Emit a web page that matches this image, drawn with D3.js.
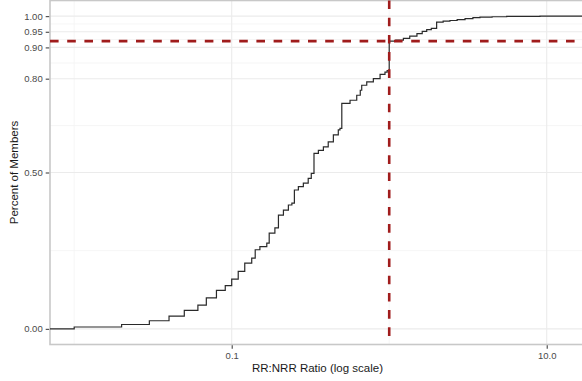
<!DOCTYPE html>
<html>
<head>
<meta charset="utf-8">
<script src="https://cdn.jsdelivr.net/npm/d3@7"></script>
<style>
	body { margin: 0; background: #fff; }
	text { font-family: "Liberation Sans", Arial, sans-serif; }
</style>
</head>
<body>
<div id="chartDiv"></div>
<script>
// ECDF steps: ratio where each step happens, share after it
var stepRatio = [0.010, 0.020, 0.030, 0.040, 0.050, 0.061, 0.069, 0.080, 0.091, 0.100,
	0.110, 0.121, 0.134, 0.141, 0.151, 0.167, 0.173, 0.188, 0.198, 0.213,
	0.229, 0.241, 0.250, 0.265, 0.285, 0.306, 0.320, 0.333, 0.355, 0.382,
	0.410, 0.442, 0.475, 0.487, 0.500, 0.564, 0.622, 0.655, 0.669, 0.720,
	0.793, 0.875, 0.940, 0.970, 1.000, 1.10, 1.23, 1.35, 1.50, 1.62,
	1.73, 1.85, 2.00, 2.20, 2.43, 2.70, 3.03, 3.40, 3.77, 4.50,
	5.57, 7.00, 9.06];
var cumShare = [0.006, 0.014, 0.026, 0.041, 0.059, 0.076, 0.099, 0.123, 0.138, 0.159,
	0.184, 0.210, 0.226, 0.253, 0.263, 0.274, 0.306, 0.323, 0.364, 0.380,
	0.396, 0.402, 0.444, 0.455, 0.466, 0.481, 0.497, 0.561, 0.571, 0.582,
	0.598, 0.620, 0.636, 0.641, 0.721, 0.731, 0.747, 0.763, 0.779, 0.790,
	0.800, 0.814, 0.821, 0.826, 0.920, 0.923, 0.929, 0.936, 0.944, 0.951,
	0.957, 0.961, 0.981, 0.984, 0.986, 0.989, 0.992, 0.995, 0.997, 0.998,
	0.999, 0.9995, 1.000];

var xTicks = [0.1, 10];
var xTickLabels = ["0.1", "10.0"];
var xMinorTicks = [0.01, 1];
var yTicks = [0, 0.5, 0.8, 0.9, 0.95, 1];
var yTickLabels = ["0.00", "0.50", "0.80", "0.90", "0.95", "1.00"];
var yMinorTicks = [0.25, 0.65, 0.85, 0.925, 0.975];

var cutRatio = 1.0;
var cutShare = 0.92;

;(function() {

	var width = 582;
	var height = 381;
	var panel = { left: 50, right: 585, top: 0.5, bottom: 344.5 };

	var xDomain = [0.00702, 17.5];
	var yDomain = [-0.05, 1.05];

	var chart;

	init();

	function init() {
		chart = d3.select("#chartDiv").append("svg")
			.attr("width", width)
			.attr("height", height);

		chart.xScale = d3.scaleLog()
			.domain(xDomain)
			.range([panel.left, panel.right]);

		chart.yScale = d3.scaleLinear()
			.domain(yDomain)
			.range([panel.bottom, panel.top]);

		drawGrid();
		drawAxes();
		drawStep();
		drawCutLines();
	}

	function drawGrid() {
		var g = chart.append("g");

		g.selectAll(".yminor").data(yMinorTicks).enter().append("line")
			.attr("x1", panel.left).attr("x2", panel.right)
			.attr("y1", d => chart.yScale(d)).attr("y2", d => chart.yScale(d))
			.attr("stroke", "#f4f4f4").attr("stroke-width", 0.8);

		g.selectAll(".xminor").data(xMinorTicks).enter().append("line")
			.attr("y1", panel.top).attr("y2", panel.bottom)
			.attr("x1", d => chart.xScale(d)).attr("x2", d => chart.xScale(d))
			.attr("stroke", "#f4f4f4").attr("stroke-width", 0.8);

		g.selectAll(".ymajor").data(yTicks).enter().append("line")
			.attr("x1", panel.left).attr("x2", panel.right)
			.attr("y1", d => chart.yScale(d)).attr("y2", d => chart.yScale(d))
			.attr("stroke", "#ebebeb").attr("stroke-width", 1.1);

		g.selectAll(".xmajor").data(xTicks).enter().append("line")
			.attr("y1", panel.top).attr("y2", panel.bottom)
			.attr("x1", d => chart.xScale(d)).attr("x2", d => chart.xScale(d))
			.attr("stroke", "#ebebeb").attr("stroke-width", 1.1);

		// panel border
		g.append("rect")
			.attr("x", panel.left).attr("y", panel.top)
			.attr("width", panel.right - panel.left)
			.attr("height", panel.bottom - panel.top)
			.attr("fill", "none")
			.attr("stroke", "#c8c8c8")
			.attr("stroke-width", 1.6);
	}

	function drawAxes() {
		chart.xAxis = d3.axisBottom(chart.xScale)
			.tickValues(xTicks)
			.tickFormat((d, i) => xTickLabels[i])
			.tickSize(3.5)
			.tickPadding(3);

		chart.append("g")
			.attr("class", "x axis")
			.attr("transform", "translate(0," + (panel.bottom + 0.8) + ")")
			.call(chart.xAxis);

		chart.yAxis = d3.axisLeft(chart.yScale)
			.tickValues(yTicks)
			.tickFormat((d, i) => yTickLabels[i])
			.tickSize(3.5)
			.tickPadding(3);

		chart.append("g")
			.attr("class", "y axis")
			.attr("transform", "translate(" + (panel.left - 0.8) + ",0)")
			.call(chart.yAxis);

		chart.selectAll(".axis .domain").remove();
		chart.selectAll(".axis line").attr("stroke", "#444").attr("stroke-width", 1.1);
		chart.selectAll(".axis text")
			.attr("fill", "#4a4a4a")
			.style("font-size", "9.5px");

		// x axis header label
		chart.append("text")
			.attr("text-anchor", "middle")
			.attr("x", (panel.left + panel.right) / 2)
			.attr("y", 372)
			.attr("fill", "#1a1a1a")
			.style("font-size", "11.5px")
			.text("RR:NRR Ratio (log scale)");

		// y axis header label
		chart.append("text")
			.attr("text-anchor", "middle")
			.attr("transform", "translate(18," + ((panel.top + panel.bottom) / 2) + ") rotate(-90)")
			.attr("fill", "#1a1a1a")
			.style("font-size", "11.5px")
			.text("Percent of Members");
	}

	function drawStep() {
		var pts = stepRatio.map((r, i) => [r, cumShare[i]]);
		// pad like an ecdf: from the left edge at 0, out to the right edge at 1
		pts.unshift([xDomain[0], 0]);
		pts.push([xDomain[1], cumShare[cumShare.length - 1]]);

		var line = d3.line()
			.x(d => chart.xScale(d[0]))
			.y(d => chart.yScale(d[1]))
			.curve(d3.curveStepAfter);

		chart.append("path")
			.datum(pts)
			.attr("d", line)
			.attr("fill", "none")
			.attr("stroke", "#2a2a2a")
			.attr("stroke-width", 1.2);
	}

	function drawCutLines() {
		var red = "#a01c1c";

		chart.append("line")
			.attr("x1", panel.left).attr("x2", panel.right)
			.attr("y1", chart.yScale(cutShare)).attr("y2", chart.yScale(cutShare))
			.attr("stroke", red)
			.attr("stroke-width", 2.6)
			.attr("stroke-dasharray", "8.6,8.6");

		chart.append("line")
			.attr("x1", chart.xScale(cutRatio)).attr("x2", chart.xScale(cutRatio))
			.attr("y1", panel.top).attr("y2", panel.bottom)
			.attr("stroke", red)
			.attr("stroke-width", 2.6)
			.attr("stroke-dasharray", "8.6,8.6");
	}
})();
</script>
</body>
</html>
